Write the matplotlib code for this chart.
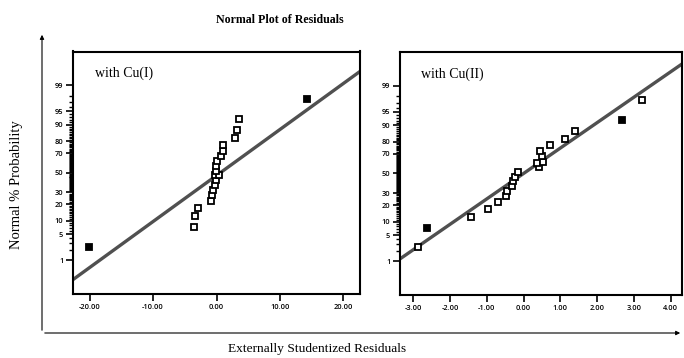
import numpy as np
import matplotlib
matplotlib.use("Agg")
import matplotlib.pyplot as plt
from statistics import NormalDist

plt.rcParams['axes.unicode_minus'] = False

# residuals (x) and their normal % probability (y)
cu1_resid = [-20.1, -3.5, -3.43, -2.96, -0.82, -0.71, -0.5, -0.28, -0.13, -0.28, 0.35,
             -0.13, -0.08, 0.03, 0.71, 0.98, 1.02, 2.96, 3.23, 3.5, 14.3]
cu1_prob = [2.4, 7.5, 12.4, 17.5, 22.8, 27.3, 32.2, 37.1, 42.3, 47.5, 47.6,
            52.1, 57.4, 62.6, 67.5, 72.1, 77.0, 82.6, 87.3, 92.4, 97.5]
cu1_filled = [True] + [False] * 19 + [True]

cu2_resid = [-2.87, -2.62, -1.44, -0.98, -0.70, -0.48, -0.45, -0.31, -0.28, -0.24, -0.14,
             0.42, 0.36, 0.53, 0.50, 0.46, 0.71, 1.14, 1.41, 2.67, 3.22]
cu2_prob = [2.6, 7.5, 12.6, 17.5, 22.2, 27.9, 32.5, 37.4, 42.2, 46.8, 52.1,
            57.1, 60.5, 62.2, 68.1, 72.7, 77.3, 82.3, 87.3, 92.4, 97.4]
cu2_filled = [False, True] + [False] * 17 + [True, False]

# fitted normal line (mean, sd) for each run
cu1_line = (0.6, 8.15)
cu2_line = (0.0, 1.48)

prob_ticks = [1, 5, 10, 20, 30, 50, 70, 80, 90, 95, 99]
prob_minor = [p for p in range(1, 100) if p not in prob_ticks]
cu1_xticks = [-20, -10, 0, 10, 20]
cu2_xticks = [-3, -2, -1, 0, 1, 2, 3, 4]

nd = NormalDist()
_ppf = np.vectorize(nd.inv_cdf, otypes=[float])
_cdf = np.vectorize(nd.cdf, otypes=[float])


def fwd(p):
    p = np.clip(np.asarray(p, dtype=float) / 100.0, 1e-9, 1 - 1e-9)
    return _ppf(p)


def inv(z):
    return _cdf(np.asarray(z, dtype=float)) * 100.0


def panel(ax, resid, prob, filled, line, xlim, xticks, label):
    ax.set_yscale('function', functions=(fwd, inv))
    ax.set_xlim(*xlim)
    ax.set_ylim(nd.cdf(-3.23) * 100, nd.cdf(3.23) * 100)

    xs = np.linspace(xlim[0], xlim[1], 300)
    ax.plot(xs, 100 * _cdf((xs - line[0]) / line[1]), color='#505050', lw=2.4,
            solid_capstyle='butt', zorder=2)

    resid = np.array(resid)
    prob = np.array(prob)
    filled = np.array(filled)
    ax.plot(resid[~filled], prob[~filled], 's', ms=5, mfc='white', mec='black',
            mew=1.3, zorder=3)
    ax.plot(resid[filled], prob[filled], 's', ms=5, mfc='black', mec='black',
            mew=1.3, zorder=3)

    ax.set_yticks(prob_ticks)
    ax.set_yticklabels([str(p) for p in prob_ticks])
    ax.set_yticks(prob_minor, minor=True)
    ax.set_xticks(xticks)
    ax.set_xticklabels(['%.2f' % t for t in xticks])
    ax.xaxis.set_minor_locator(matplotlib.ticker.NullLocator())

    ax.tick_params(axis='both', which='major', direction='out', length=5, width=1.2,
                   labelsize=5.3, pad=2)
    ax.tick_params(axis='y', which='minor', direction='out', length=3, width=1.0)
    ax.tick_params(top=False, right=False)
    for lab in ax.get_xticklabels() + ax.get_yticklabels():
        lab.set_family('Open Sans')
        lab.set_fontweight('semibold')
    for s in ax.spines.values():
        s.set_linewidth(1.5)

    ax.text(0.075, 0.91, label, transform=ax.transAxes, family='Liberation Serif',
            fontsize=10, va='center', ha='left')


fig = plt.figure(figsize=(6.84, 3.58), dpi=100)
ax1 = fig.add_axes([73 / 684, 1 - 294 / 358, 287 / 684, 242.5 / 358])
ax2 = fig.add_axes([400 / 684, 1 - 295 / 358, 282 / 684, 243 / 358])

panel(ax1, cu1_resid, cu1_prob, cu1_filled, cu1_line, (-22.6, 22.6), cu1_xticks, 'with Cu(I)')
panel(ax2, cu2_resid, cu2_prob, cu2_filled, cu2_line, (-3.36, 4.31), cu2_xticks, 'with Cu(II)')

# outer axis arrows
ox, oy = 42 / 684, 1 - 333 / 358
fig.add_artist(matplotlib.patches.FancyArrowPatch((ox, oy), (ox, 1 - 32 / 358),
               transform=fig.transFigure, arrowstyle='-|>', mutation_scale=6,
               lw=0.8, color='black'))
fig.add_artist(matplotlib.patches.FancyArrowPatch((ox, oy), (683 / 684, oy),
               transform=fig.transFigure, arrowstyle='-|>', mutation_scale=6,
               lw=0.8, color='black'))

fig.text(280 / 684, 1 - 20 / 358, 'Normal Plot of Residuals', ha='center', va='center',
         family='Liberation Serif', fontweight='bold', fontsize=8.6)
fig.text(17 / 684, 1 - 185 / 358, 'Normal % Probability', rotation=90, ha='center',
         va='center', family='Liberation Serif', fontsize=10.5)
fig.text(317 / 684, 1 - 349 / 358, 'Externally Studentized Residuals', ha='center',
         va='center', family='Liberation Serif', fontsize=9.6)

fig.savefig('out.png', dpi=100)
